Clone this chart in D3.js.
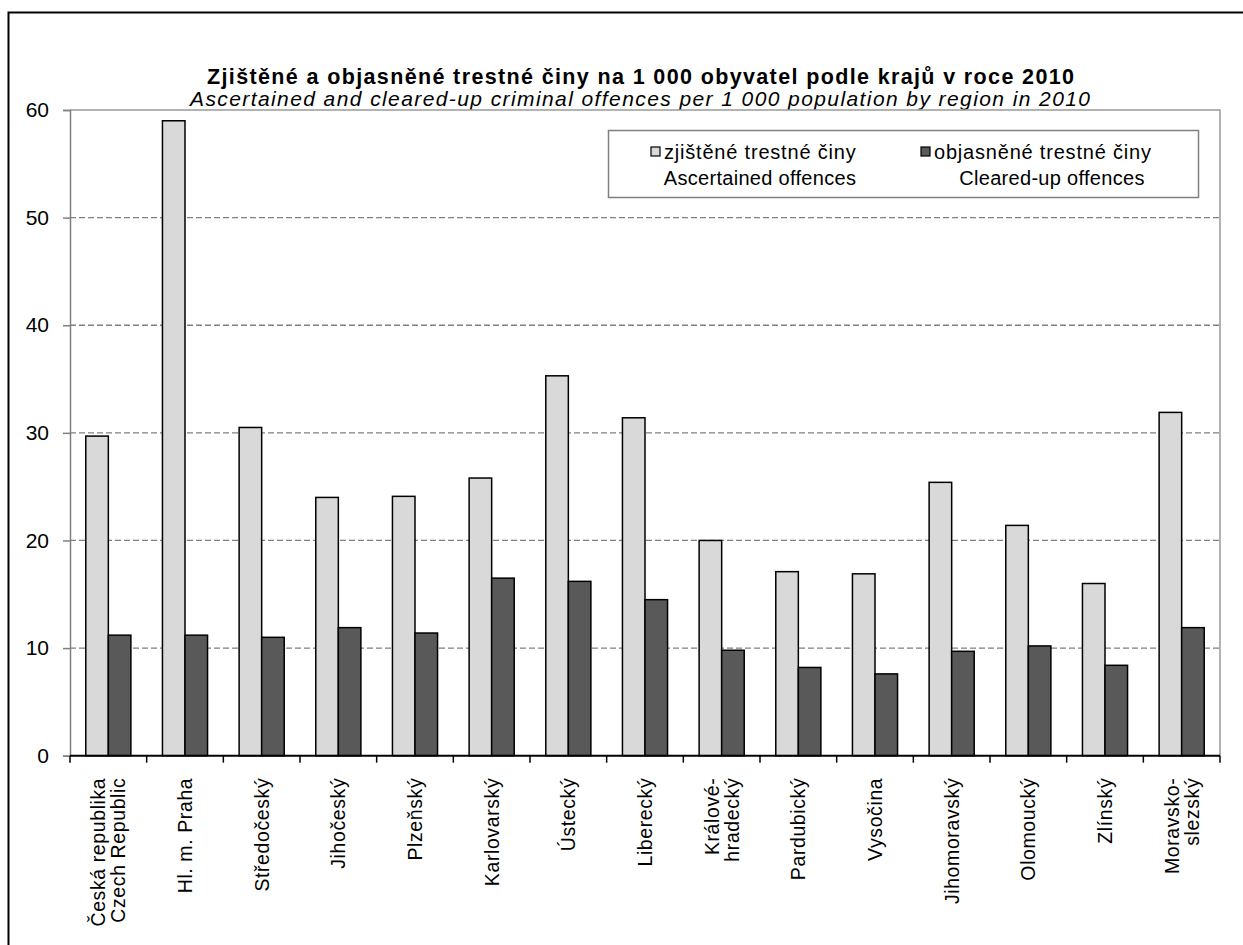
<!DOCTYPE html>
<html>
<head>
<meta charset="utf-8">
<script src="https://cdn.jsdelivr.net/npm/d3@7"></script>
<style>
  body { margin: 0; background: #fff; }
  text { font-family: Arial, "Liberation Sans", sans-serif; fill: #000; }
</style>
</head>
<body>
<div id="chart"></div>
<script>
// chart data
var regions = [
  "Česká republika\nCzech Republic", "Hl. m. Praha", "Středočeský", "Jihočeský",
  "Plzeňský", "Karlovarský", "Ústecký", "Liberecký", "Králové-\nhradecký",
  "Pardubický", "Vysočina", "Jihomoravský", "Olomoucký", "Zlínský", "Moravsko-\nslezský"
];
var ascertained = [29.7, 59.0, 30.5, 24.0, 24.1, 25.8, 35.3, 31.4, 20.0, 17.1, 16.9, 25.4, 21.4, 16.0, 31.9];
var clearedUp = [11.2, 11.2, 11.0, 11.9, 11.4, 16.5, 16.2, 14.5, 9.8, 8.2, 7.6, 9.7, 10.2, 8.4, 11.9];
var seriesKeys = ["ascertained", "clearedUp"];
var seriesNames = [
  ["zjištěné trestné činy", "Ascertained offences"],
  ["objasněné trestné činy", "Cleared-up offences"]
];
var yTicks = [0, 10, 20, 30, 40, 50, 60];

var svgWidth = 1243;
var svgHeight = 945;

var margin = { top: 110, right: 23, bottom: 189.3, left: 70 };
var width = svgWidth - margin.left - margin.right;
var height = svgHeight - margin.top - margin.bottom;

var colors = { ascertained: "#d9d9d9", clearedUp: "#595959" };

var svg = d3.select("#chart")
  .append("svg")
  .attr("width", svgWidth)
  .attr("height", svgHeight);

// outer frame
svg.append("rect")
  .attr("x", 8.5).attr("y", 12.5)
  .attr("width", 1250).attr("height", 950)
  .attr("fill", "none")
  .attr("stroke", "#000")
  .attr("stroke-width", 2);

// titles (stretched to the width they have in the source)
svg.append("text")
  .attr("x", 207).attr("y", 84)
  .attr("textLength", 867)
  .attr("lengthAdjust", "spacing")
  .style("font-size", "21.5px")
  .style("font-weight", "bold")
  .text("Zjištěné a objasněné trestné činy na 1 000 obyvatel podle krajů v roce 2010");

svg.append("text")
  .attr("x", 190).attr("y", 106)
  .attr("textLength", 900)
  .attr("lengthAdjust", "spacing")
  .style("font-size", "21px")
  .style("font-style", "italic")
  .text("Ascertained and cleared-up criminal offences per 1 000 population by region in 2010");

var chartGroup = svg.append("g")
  .attr("transform", `translate(${margin.left}, ${margin.top})`);

// scales
var data = regions.map((r, i) => ({ region: r, ascertained: ascertained[i], clearedUp: clearedUp[i] }));

var x0 = d3.scaleBand()
  .domain(regions)
  .range([0, width])
  .padding(0);

var x1 = d3.scaleBand()
  .domain(seriesKeys)
  .range([0, x0.bandwidth()])
  .paddingInner(0)
  .paddingOuter(0.7);

var y = d3.scaleLinear()
  .domain([0, 60])
  .range([height, 0]);

// gridlines
chartGroup.selectAll(".grid")
  .data(yTicks.filter(t => t > 0 && t < 60))
  .enter()
  .append("line")
  .attr("x1", 0).attr("x2", width)
  .attr("y1", d => y(d)).attr("y2", d => y(d))
  .attr("stroke", "#808080")
  .attr("stroke-width", 1.3)
  .attr("stroke-dasharray", "6,3");

// plot area border (top and right)
chartGroup.append("path")
  .attr("d", `M0,${y(60)}H${width}V${height}`)
  .attr("fill", "none")
  .attr("stroke", "#9a9a9a")
  .attr("stroke-width", 1.5);

// y axis
var leftAxis = d3.axisLeft(y).tickValues(yTicks).tickSize(7).tickPadding(14);
var yAxis = chartGroup.append("g").call(leftAxis);
yAxis.select(".domain").attr("stroke", "#808080").attr("stroke-width", 1.5);
yAxis.selectAll(".tick line").attr("stroke", "#808080").attr("stroke-width", 1.5);
yAxis.selectAll(".tick text")
  .style("font-size", "21px")
  .style("font-family", "Arial, 'Liberation Sans', sans-serif")
  .attr("fill", "#000");

// bars
var groups = chartGroup.selectAll(".region")
  .data(data)
  .enter()
  .append("g")
  .attr("transform", d => `translate(${x0(d.region)}, 0)`);

groups.selectAll("rect")
  .data(d => seriesKeys.map(k => ({ key: k, value: d[k] })))
  .enter()
  .append("rect")
  .attr("x", d => x1(d.key))
  .attr("y", d => y(d.value))
  .attr("width", x1.bandwidth())
  .attr("height", d => height - y(d.value))
  .attr("fill", d => colors[d.key])
  .attr("stroke", "#000")
  .attr("stroke-width", 1.5);

// x axis
var tickPositions = regions.map(r => x0(r)).concat([width]);
var xAxis = chartGroup.append("g")
  .attr("transform", `translate(0, ${height})`);
xAxis.append("line")
  .attr("x1", 0).attr("x2", width)
  .attr("stroke", "#000").attr("stroke-width", 2);
xAxis.selectAll(".xtick")
  .data(tickPositions)
  .enter()
  .append("line")
  .attr("x1", d => d).attr("x2", d => d)
  .attr("y1", 0).attr("y2", 7)
  .attr("stroke", "#000").attr("stroke-width", 1.5);

// x labels, rotated
var lineGap = 20;
var xLabels = xAxis.selectAll(".xlabel")
  .data(regions)
  .enter()
  .append("text")
  .attr("transform", d => `translate(${x0(d) + x0.bandwidth() / 2}, 22) rotate(-90)`)
  .attr("text-anchor", "end")
  .style("font-size", "19.5px")
  .style("letter-spacing", "0.6px");

xLabels.each(function(d) {
  var lines = d.split("\n");
  var t = d3.select(this);
  lines.forEach(function(line, i) {
    t.append("tspan")
      .attr("x", 0)
      .attr("y", (i - (lines.length - 1) / 2) * lineGap + 7)
      .text(line);
  });
});

// legend
var legend = svg.append("g");
legend.append("rect")
  .attr("x", 608.5).attr("y", 130.5)
  .attr("width", 590).attr("height", 67)
  .attr("fill", "#fff")
  .attr("stroke", "#808080")
  .attr("stroke-width", 1.5);

var legendX = [651, 921];
var legendCenter = [760, 1052];
seriesKeys.forEach(function(k, i) {
  legend.append("rect")
    .attr("x", legendX[i]).attr("y", 147)
    .attr("width", 9).attr("height", 9)
    .attr("fill", colors[k])
    .attr("stroke", "#000")
    .attr("stroke-width", 1.2);
  legend.append("text")
    .attr("x", legendX[i] + 13).attr("y", 159)
    .style("font-size", "20px")
    .style("letter-spacing", "0.8px")
    .text(seriesNames[i][0]);
  legend.append("text")
    .attr("x", legendCenter[i]).attr("y", 185)
    .attr("text-anchor", "middle")
    .style("font-size", "20px")
    .style("letter-spacing", "0.3px")
    .text(seriesNames[i][1]);
});
</script>
</body>
</html>
